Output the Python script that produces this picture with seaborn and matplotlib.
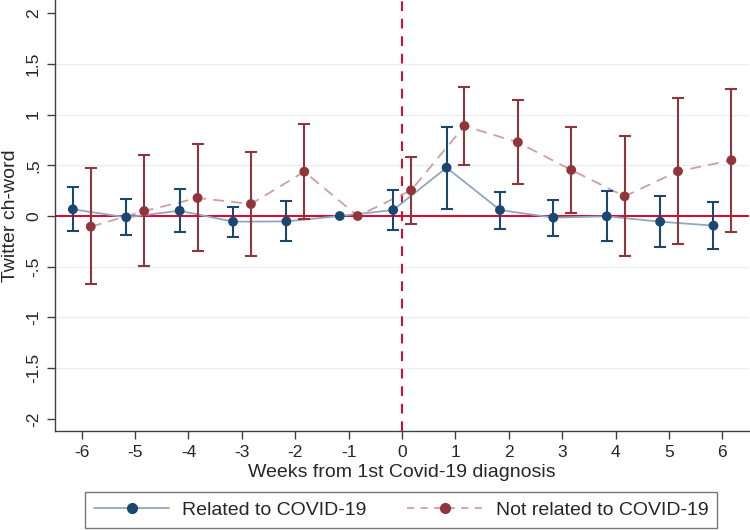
import matplotlib
matplotlib.use("Agg")
import matplotlib.pyplot as plt
import numpy as np
import pandas as pd
import seaborn as sns
from matplotlib.lines import Line2D

# ---- data ----
weeks = [-6, -5, -4, -3, -2, -1, 0, 1, 2, 3, 4, 5, 6]

related = [0.066, -0.013, 0.052, -0.056, -0.053, 0.0, 0.059, 0.477, 0.059, -0.016, -0.003, -0.056, -0.095]
related_lo = [-0.145, -0.190, -0.155, -0.207, -0.250, np.nan, -0.138, 0.072, -0.128, -0.194, -0.250, -0.303, -0.326]
related_hi = [0.283, 0.168, 0.267, 0.092, 0.145, np.nan, 0.253, 0.875, 0.240, 0.158, 0.250, 0.194, 0.141]

notrel = [-0.105, 0.049, 0.178, 0.118, 0.437, 0.0, 0.253, 0.888, 0.727, 0.454, 0.194, 0.441, 0.550]
notrel_lo = [-0.671, -0.494, -0.349, -0.395, -0.030, np.nan, -0.076, 0.503, 0.319, 0.030, -0.398, -0.273, -0.155]
notrel_hi = [0.471, 0.599, 0.711, 0.629, 0.911, np.nan, 0.582, 1.270, 1.142, 0.879, 0.790, 1.162, 1.254]

y_ticks = [-2, -1.5, -1, -0.5, 0, 0.5, 1, 1.5, 2]
y_ticklabels = ["-2", "-1.5", "-1", "-.5", "0", ".5", "1", "1.5", "2"]
labels = ["Related to COVID-19", "Not related to COVID-19"]

# ---- style ----
sns.set_style("ticks")
plt.rcParams["font.family"] = ["Liberation Sans", "DejaVu Sans"]

NAVY = "#1a476f"
NAVY_LINE = "#8fa7c1"
MAROON = "#90353b"
MAROON_LINE = "#cf9ea2"
RED = "#e4002b"
GRID = "#e6eff1"

off_rel, off_not = -0.165, 0.17

df = pd.DataFrame({
    "week": weeks * 2,
    "value": related + notrel,
    "lo": related_lo + notrel_lo,
    "hi": related_hi + notrel_hi,
    "group": [labels[0]] * len(weeks) + [labels[1]] * len(weeks),
})
df["xpos"] = df["week"] + np.where(df["group"] == labels[0], off_rel, off_not)

fig = plt.figure(figsize=(7.5, 5.3), dpi=100)
ax = fig.add_axes([55 / 750, 1 - 431 / 530, 694 / 750, 431 / 530])

# gridlines (Stata-like: not at the extremes)
for yv in [-1.5, -1, -0.5, 0.5, 1, 1.5]:
    ax.axhline(yv, color=GRID, lw=1.0, zorder=0)

ax.axhline(0, color=RED, lw=1.4, zorder=1)
ax.axvline(0, color=RED, lw=1.4, ls=(0, (5, 4)), zorder=1)

# lines
sns.lineplot(data=df[df.group == labels[0]], x="xpos", y="value", ax=ax,
             color=NAVY_LINE, lw=1.3, zorder=2, legend=False, sort=True)
sns.lineplot(data=df[df.group == labels[1]], x="xpos", y="value", ax=ax,
             color=MAROON_LINE, lw=1.3, zorder=2, legend=False, sort=True)
ax.lines[-1].set_dashes((6, 4))

# error bars
for grp, col in [(labels[0], NAVY), (labels[1], MAROON)]:
    d = df[(df.group == grp) & df["lo"].notna()]
    ax.errorbar(d["xpos"], d["value"],
                yerr=[d["value"] - d["lo"], d["hi"] - d["value"]],
                fmt="none", ecolor=col, elinewidth=1.5, capsize=4.5, capthick=1.5, zorder=3)

# markers
sns.scatterplot(data=df, x="xpos", y="value", hue="group",
                palette={labels[0]: NAVY, labels[1]: MAROON},
                s=50, edgecolor="none", ax=ax, zorder=4, legend=False)

ax.set_xlim(-6.5, 6.5)
ax.set_ylim(-2.12, 2.13)
ax.set_xticks(weeks)
ax.set_xticklabels([str(w) for w in weeks], fontsize=12.5)
ax.set_yticks(y_ticks)
ax.set_yticklabels(y_ticklabels, fontsize=12.5, rotation=90, va="center")
ax.tick_params(axis="both", length=6, width=1, color="#404040", pad=4)
ax.set_xlabel("Weeks from 1st Covid-19 diagnosis", fontsize=14, labelpad=3)
ax.set_ylabel("Twitter ch-word", fontsize=14, labelpad=5)

for s in ["top", "right"]:
    ax.spines[s].set_visible(False)
for s in ["left", "bottom"]:
    ax.spines[s].set_color("#404040")
    ax.spines[s].set_linewidth(1.0)

handles = [
    Line2D([], [], color=NAVY_LINE, lw=1.3, marker="o", markersize=7,
           markerfacecolor=NAVY, markeredgecolor=NAVY),
    Line2D([], [], color=MAROON_LINE, lw=1.3, ls=(0, (4, 3.5)), marker="o", markersize=7,
           markerfacecolor=MAROON, markeredgecolor=MAROON),
]
leg = fig.legend(handles, labels, loc="center", bbox_to_anchor=(401 / 750, 1 - 510 / 530),
                 ncol=2, frameon=True, fancybox=False, fontsize=14,
                 handlelength=3.9, handletextpad=0.65, columnspacing=2.1,
                 borderpad=0.45, borderaxespad=0.0)
leg.get_frame().set_edgecolor("#555555")
leg.get_frame().set_linewidth(1.0)

fig.savefig("out.png", dpi=100)
